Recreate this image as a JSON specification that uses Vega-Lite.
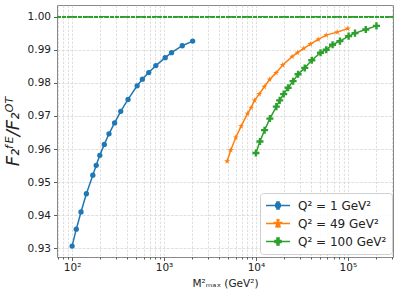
{
  "$schema": "https://vega.github.io/schema/vega-lite/v6.json",
  "autosize": "none",
  "width": 336,
  "height": 252,
  "padding": {"left": 57, "top": 5, "right": 4, "bottom": 37},
  "background": "white",
  "config": {
    "font": "DejaVu Sans",
    "view": {"stroke": "#888", "strokeWidth": 1},
    "axis": {"labelFont": "DejaVu Sans", "titleFont": "DejaVu Sans", "labelColor": "#222", "titleColor": "#222", "domain": false, "tickColor": "#333"}
  },
  "data": {"values": [
    {"s": "Q² = 1 GeV²", "m": 100, "r": 0.9307},
    {"s": "Q² = 1 GeV²", "m": 111, "r": 0.9358},
    {"s": "Q² = 1 GeV²", "m": 125, "r": 0.9410},
    {"s": "Q² = 1 GeV²", "m": 143, "r": 0.9465},
    {"s": "Q² = 1 GeV²", "m": 168, "r": 0.9521},
    {"s": "Q² = 1 GeV²", "m": 183, "r": 0.9551},
    {"s": "Q² = 1 GeV²", "m": 200, "r": 0.9581},
    {"s": "Q² = 1 GeV²", "m": 224, "r": 0.9614},
    {"s": "Q² = 1 GeV²", "m": 252, "r": 0.9646},
    {"s": "Q² = 1 GeV²", "m": 290, "r": 0.9679},
    {"s": "Q² = 1 GeV²", "m": 338, "r": 0.9714},
    {"s": "Q² = 1 GeV²", "m": 406, "r": 0.9750},
    {"s": "Q² = 1 GeV²", "m": 510, "r": 0.9791},
    {"s": "Q² = 1 GeV²", "m": 582, "r": 0.9811},
    {"s": "Q² = 1 GeV²", "m": 682, "r": 0.9831},
    {"s": "Q² = 1 GeV²", "m": 815, "r": 0.9852},
    {"s": "Q² = 1 GeV²", "m": 1030, "r": 0.9876},
    {"s": "Q² = 1 GeV²", "m": 1207, "r": 0.9891},
    {"s": "Q² = 1 GeV²", "m": 1580, "r": 0.9912},
    {"s": "Q² = 1 GeV²", "m": 2050, "r": 0.9926},
    {"s": "Q² = 49 GeV²", "m": 4860, "r": 0.9563},
    {"s": "Q² = 49 GeV²", "m": 5330, "r": 0.9597},
    {"s": "Q² = 49 GeV²", "m": 6045, "r": 0.9635},
    {"s": "Q² = 49 GeV²", "m": 6905, "r": 0.9669},
    {"s": "Q² = 49 GeV²", "m": 8095, "r": 0.9707},
    {"s": "Q² = 49 GeV²", "m": 8890, "r": 0.9725},
    {"s": "Q² = 49 GeV²", "m": 9660, "r": 0.9747},
    {"s": "Q² = 49 GeV²", "m": 10870, "r": 0.9766},
    {"s": "Q² = 49 GeV²", "m": 12330, "r": 0.9788},
    {"s": "Q² = 49 GeV²", "m": 14100, "r": 0.9810},
    {"s": "Q² = 49 GeV²", "m": 16550, "r": 0.9830},
    {"s": "Q² = 49 GeV²", "m": 19560, "r": 0.9854},
    {"s": "Q² = 49 GeV²", "m": 24750, "r": 0.9879},
    {"s": "Q² = 49 GeV²", "m": 28250, "r": 0.9891},
    {"s": "Q² = 49 GeV²", "m": 33130, "r": 0.9904},
    {"s": "Q² = 49 GeV²", "m": 39200, "r": 0.9917},
    {"s": "Q² = 49 GeV²", "m": 47600, "r": 0.9931},
    {"s": "Q² = 49 GeV²", "m": 58200, "r": 0.9944},
    {"s": "Q² = 49 GeV²", "m": 76700, "r": 0.9953},
    {"s": "Q² = 49 GeV²", "m": 100000, "r": 0.9964},
    {"s": "Q² = 100 GeV²", "m": 10000, "r": 0.9588},
    {"s": "Q² = 100 GeV²", "m": 11060, "r": 0.9623},
    {"s": "Q² = 100 GeV²", "m": 12420, "r": 0.9657},
    {"s": "Q² = 100 GeV²", "m": 14200, "r": 0.9692},
    {"s": "Q² = 100 GeV²", "m": 16680, "r": 0.9728},
    {"s": "Q² = 100 GeV²", "m": 18130, "r": 0.9747},
    {"s": "Q² = 100 GeV²", "m": 20040, "r": 0.9766},
    {"s": "Q² = 100 GeV²", "m": 22400, "r": 0.9785},
    {"s": "Q² = 100 GeV²", "m": 25370, "r": 0.9805},
    {"s": "Q² = 100 GeV²", "m": 28770, "r": 0.9826},
    {"s": "Q² = 100 GeV²", "m": 33980, "r": 0.9845},
    {"s": "Q² = 100 GeV²", "m": 40500, "r": 0.9868},
    {"s": "Q² = 100 GeV²", "m": 50460, "r": 0.9891},
    {"s": "Q² = 100 GeV²", "m": 58200, "r": 0.9900},
    {"s": "Q² = 100 GeV²", "m": 68200, "r": 0.9915},
    {"s": "Q² = 100 GeV²", "m": 82000, "r": 0.9926},
    {"s": "Q² = 100 GeV²", "m": 102000, "r": 0.9941},
    {"s": "Q² = 100 GeV²", "m": 119700, "r": 0.9950},
    {"s": "Q² = 100 GeV²", "m": 156700, "r": 0.9961},
    {"s": "Q² = 100 GeV²", "m": 204800, "r": 0.9972}
  ]},
  "encoding": {
    "x": {
      "field": "m", "type": "quantitative",
      "scale": {"type": "log", "domain": [68.5, 310000], "nice": false},
      "axis": {
        "title": "M²ₘₐₓ (GeV²)",
        "titleFontSize": 10.5, "titleFontWeight": "normal", "titlePadding": 5,
        "labelFontSize": 10.5, "labelPadding": 2,
        "values": [70,80,90,100,200,300,400,500,600,700,800,900,1000,2000,3000,4000,5000,6000,7000,8000,9000,10000,20000,30000,40000,50000,60000,70000,80000,90000,100000,200000,300000],
        "labelExpr": "datum.value == 100 ? '10²' : datum.value == 1000 ? '10³' : datum.value == 10000 ? '10⁴' : datum.value == 100000 ? '10⁵' : ''",
        "labelOverlap": false, "labelFlush": false,
        "tickSize": {"condition": {"test": "datum.value == 100 || datum.value == 1000 || datum.value == 10000 || datum.value == 100000", "value": 3.5}, "value": 2},
        "tickWidth": 0.8,
        "grid": true, "gridColor": "#d2d2d2", "gridWidth": 0.7, "gridDash": [2.5, 1.5]
      }
    },
    "y": {
      "field": "r", "type": "quantitative",
      "scale": {"domain": [0.9274, 1.0035], "nice": false, "zero": false},
      "axis": {
        "title": "F₂ᶠᴱ/F₂ᴼᵀ",
        "titleFontSize": 18, "titleFontStyle": "italic", "titleFontWeight": "normal", "titlePadding": 5,
        "labelFontSize": 10.5, "labelPadding": 3,
        "values": [0.93, 0.94, 0.95, 0.96, 0.97, 0.98, 0.99, 1.0],
        "format": ".2f",
        "tickSize": 3.5, "tickWidth": 0.8,
        "grid": true, "gridColor": "#d8d8d8", "gridWidth": 0.8, "gridDash": [3, 1.2]
      }
    }
  },
  "layer": [
    {
      "mark": {"type": "rule", "color": "#2ca02c", "strokeWidth": 1, "strokeDash": [3.7, 1.6]},
      "encoding": {"y": {"datum": 1.0}, "x": {"value": 0}, "x2": {"value": 336}}
    },
    {
      "mark": {"type": "line", "strokeWidth": 1.5},
      "encoding": {
        "color": {
          "field": "s", "type": "nominal",
          "scale": {"domain": ["Q² = 1 GeV²", "Q² = 49 GeV²", "Q² = 100 GeV²"], "range": ["#1f77b4", "#ff7f0e", "#2ca02c"]},
          "legend": {
            "title": null, "orient": "none", "legendX": 203, "legendY": 188,
            "labelFontSize": 12, "labelColor": "#222", "labelFont": "DejaVu Sans",
            "symbolSize": 576, "labelOffset": 7, "rowPadding": 3, "clipHeight": 15,
            "padding": 5, "fillColor": "rgba(255,255,255,0.85)", "strokeColor": "#d0d0d0", "cornerRadius": 3,
            "encode": {"symbols": {"update": {
              "shape": {"signal": "datum.value === 'Q² = 1 GeV²' ? 'M-1,0H1M0,-0.3V0.3M-0.15,-0.3H0.15M-0.15,0.3H0.15M-0.2,0A0.2,0.2,0,1,0,0.2,0A0.2,0.2,0,1,0,-0.2,0Z' : datum.value === 'Q² = 49 GeV²' ? 'M-1,0H1M0,-0.3V0.3M-0.15,-0.3H0.15M-0.15,0.3H0.15M0,-0.25L0.0563,-0.0773L0.2378,-0.0773L0.0908,0.0295L0.147,0.2023L0,0.0955L-0.147,0.2023L-0.0908,0.0295L-0.2378,-0.0773L-0.0563,-0.0773Z' : 'M-1,0H1M0,-0.3V0.3M-0.15,-0.3H0.15M-0.15,0.3H0.15M-0.083,-0.25H0.083V-0.083H0.25V0.083H0.083V0.25H-0.083V0.083H-0.25V-0.083H-0.083Z'"},
              "stroke": {"scale": "color", "field": "value"},
              "fill": {"scale": "color", "field": "value"},
              "fillOpacity": {"value": 1},
              "strokeWidth": {"value": 1.5},
              "size": {"value": 576}
            }}}
          }
        }
      }
    },
    {
      "transform": [{"filter": "datum.s === 'Q² = 1 GeV²'"}],
      "mark": {"type": "point", "filled": true, "opacity": 1, "shape": "circle", "size": 28, "color": "#1f77b4"},
      "encoding": {}
    },
    {
      "transform": [{"filter": "datum.s === 'Q² = 49 GeV²'"}],
      "mark": {"type": "point", "filled": true, "opacity": 1, "shape": "M0,-1L0.225,-0.309L0.951,-0.309L0.363,0.118L0.588,0.809L0,0.382L-0.588,0.809L-0.363,0.118L-0.951,-0.309L-0.225,-0.309Z", "size": 40, "color": "#ff7f0e"},
      "encoding": {}
    },
    {
      "transform": [{"filter": "datum.s === 'Q² = 100 GeV²'"}],
      "mark": {"type": "point", "filled": true, "opacity": 1, "shape": "M-0.34,-1H0.34V-0.34H1V0.34H0.34V1H-0.34V0.34H-1V-0.34H-0.34Z", "size": 50, "color": "#2ca02c"},
      "encoding": {}
    }
  ]
}
